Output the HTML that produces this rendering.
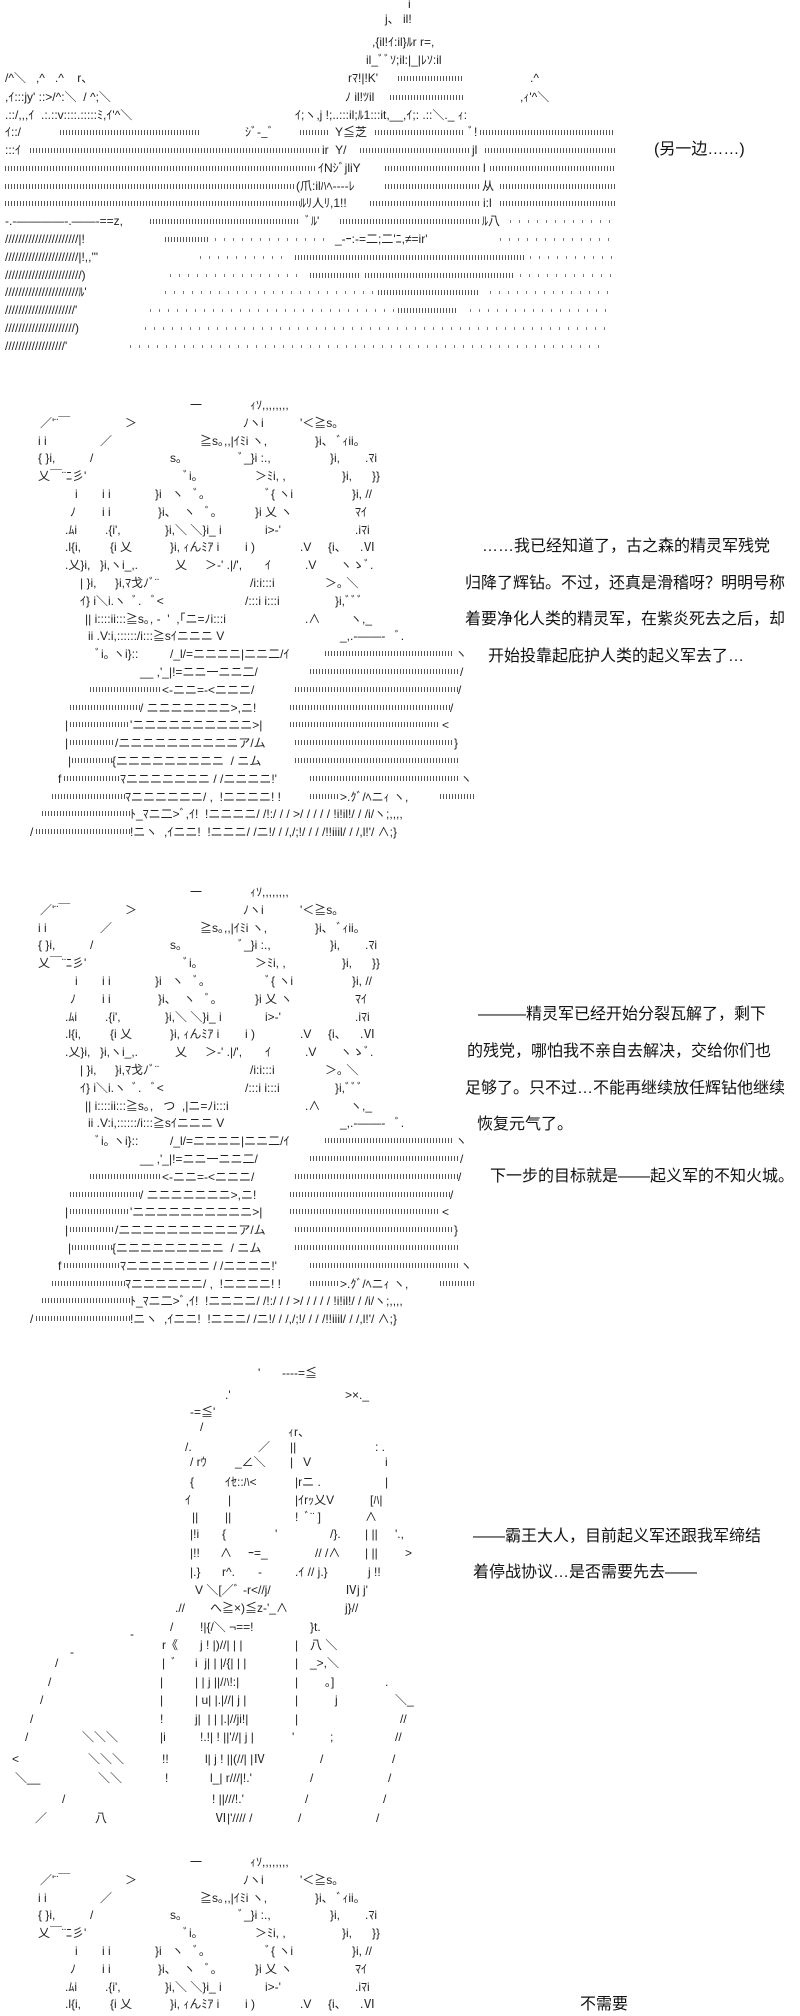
<!DOCTYPE html>
<html><head><meta charset="utf-8">
<style>
html,body{margin:0;padding:0;background:#fff;}
body{width:800px;height:2000px;position:relative;overflow:hidden;}
.p{position:absolute;left:0;width:800px;height:460px;}
.a{position:absolute;white-space:pre;font:12px/14px "Liberation Sans","Noto Sans CJK JP",sans-serif;color:#222;font-style:normal;}
.d{position:absolute;height:5px;background:repeating-linear-gradient(90deg,#555 0 1px,transparent 1px 3px);text-decoration:none;}
.e{position:absolute;height:3px;background:repeating-linear-gradient(90deg,#777 0 1px,transparent 1px 9px);}
.t{position:absolute;white-space:pre;font:16px/22px "Liberation Sans","Noto Sans CJK SC",sans-serif;color:#111;}
</style></head><body>

<!-- Panel 1 landscape -->
<div class="p" style="top:0;height:370px">
<i class="a" style="left:408px;top:-3px">i</i>
<i class="a" style="left:385px;top:12px">j、 il!</i>
<i class="a" style="left:372px;top:35px">,{il!ｲ:il}ﾙr r=,</i>
<i class="a" style="left:366px;top:53px">il_ﾞﾞｿ;il:|_|ﾚｿ:il</i>
<i class="a" style="left:5px;top:71px">/^＼   ,^   .^    r、</i>
<i class="a" style="left:348px;top:71px">rﾏ!|!K'</i><s class="d" style="left:398px;top:76px;width:65px"></s>
<i class="a" style="left:530px;top:71px">.^</i>
<i class="a" style="left:5px;top:90px">,ｲ:::jy' ::&gt;/^:＼  / ^;＼</i>
<i class="a" style="left:345px;top:90px">ﾉ il!ﾂil</i><s class="d" style="left:390px;top:95px;width:75px"></s>
<i class="a" style="left:520px;top:90px">,ｨ'^＼</i>
<i class="a" style="left:5px;top:108px">.::/,,,ｲ  .:.::v::::.:::::ﾐ,ｲ'^＼</i>
<i class="a" style="left:295px;top:108px">ｲ;ヽ,j !;..:::il;ﾙ1:::it,__,ｲ;: .::＼._ ｨ:</i>
<i class="a" style="left:5px;top:125px">ｲ::/</i><s class="d" style="left:60px;top:130px;width:140px"></s>
<i class="a" style="left:245px;top:125px">ｼﾞ-_ﾞ</i><s class="d" style="left:300px;top:130px;width:30px"></s>
<i class="a" style="left:335px;top:125px">Y≦芝</i><s class="d" style="left:375px;top:130px;width:90px"></s><i class="a" style="left:468px;top:125px">ﾞ!</i><s class="d" style="left:480px;top:130px;width:135px"></s>
<i class="a" style="left:5px;top:143px">:::ｲ</i><s class="d" style="left:30px;top:148px;width:290px"></s><i class="a" style="left:322px;top:143px">ir  Y/</i><s class="d" style="left:360px;top:148px;width:110px"></s><i class="a" style="left:472px;top:143px">jl</i><s class="d" style="left:485px;top:148px;width:130px"></s>
<s class="d" style="left:5px;top:166px;width:310px"></s><i class="a" style="left:318px;top:161px">ｲNｼﾞjliY</i><s class="d" style="left:385px;top:166px;width:95px"></s><i class="a" style="left:483px;top:161px">l</i><s class="d" style="left:490px;top:166px;width:125px"></s>
<s class="d" style="left:5px;top:184px;width:290px"></s><i class="a" style="left:296px;top:179px">(爪:ilﾊﾍ----ﾚ</i><s class="d" style="left:385px;top:184px;width:95px"></s><i class="a" style="left:482px;top:179px">从</i><s class="d" style="left:500px;top:184px;width:115px"></s>
<s class="d" style="left:5px;top:201px;width:295px"></s><i class="a" style="left:300px;top:196px">ﾙﾘ人ﾘ,1!!</i><s class="d" style="left:370px;top:201px;width:110px"></s><i class="a" style="left:483px;top:196px">i:l</i><s class="d" style="left:500px;top:201px;width:115px"></s>
<i class="a" style="left:5px;top:214px">-.-――――-.――-==z,</i><s class="d" style="left:150px;top:219px;width:150px"></s><i class="a" style="left:305px;top:214px">ﾞﾙ'</i><s class="d" style="left:340px;top:219px;width:140px"></s><i class="a" style="left:482px;top:214px">ﾙ八</i><s class="e" style="left:510px;top:220px;width:105px"></s>
<i class="a" style="left:5px;top:232px">//////////////////////|!</i><s class="d" style="left:165px;top:237px;width:45px"></s><s class="e" style="left:215px;top:238px;width:110px"></s><i class="a" style="left:335px;top:232px">_-ｰ:-=二;二'ﾆ,≠=ir'</i><s class="e" style="left:500px;top:238px;width:115px"></s>
<i class="a" style="left:5px;top:250px">//////////////////////|!,,'"</i><s class="e" style="left:200px;top:256px;width:90px"></s><s class="d" style="left:295px;top:255px;width:230px"></s><s class="e" style="left:530px;top:256px;width:85px"></s>
<i class="a" style="left:5px;top:268px">///////////////////////)</i><s class="e" style="left:170px;top:274px;width:130px"></s><s class="d" style="left:310px;top:273px;width:50px"></s><s class="d" style="left:365px;top:273px;width:150px"></s><s class="e" style="left:520px;top:274px;width:95px"></s>
<i class="a" style="left:5px;top:285px">//////////////////////ﾙ'</i><s class="e" style="left:165px;top:291px;width:210px"></s><s class="d" style="left:378px;top:290px;width:100px"></s><s class="e" style="left:490px;top:291px;width:125px"></s>
<i class="a" style="left:5px;top:303px">/////////////////////'</i><s class="e" style="left:150px;top:309px;width:245px"></s><s class="d" style="left:398px;top:308px;width:60px"></s><s class="e" style="left:470px;top:309px;width:140px"></s>
<i class="a" style="left:5px;top:321px">/////////////////////)</i><s class="e" style="left:145px;top:327px;width:465px"></s>
<i class="a" style="left:5px;top:339px">//////////////////'</i><s class="e" style="left:130px;top:345px;width:475px"></s>
</div>
<div class="t" style="left:654px;top:139px">(另一边……)</div>

<!-- Panel 2 -->
<div class="p" style="top:403px">
<i class="a" style="left:190px;top:-5px">一</i><i class="a" style="left:250px;top:-5px">ｨｿ,,,,,,,,</i>
<i class="a" style="left:40px;top:13px">／'¨￣</i><i class="a" style="left:125px;top:13px">＞</i><i class="a" style="left:243px;top:13px">ﾉヽi</i><i class="a" style="left:300px;top:13px">'＜≧s｡</i>
<i class="a" style="left:38px;top:31px">i i</i><i class="a" style="left:100px;top:31px">／</i><i class="a" style="left:200px;top:31px">≧s｡,,|ｲﾐi ヽ,</i><i class="a" style="left:315px;top:31px">}i、 ﾞｨii｡</i>
<i class="a" style="left:38px;top:48px">{ }i,</i><i class="a" style="left:90px;top:48px">/</i><i class="a" style="left:170px;top:48px">s｡</i><i class="a" style="left:238px;top:48px">ﾞ_}i :.,</i><i class="a" style="left:330px;top:48px">}i,</i><i class="a" style="left:365px;top:48px">.ﾏi</i>
<i class="a" style="left:38px;top:66px">乂￣¨ﾆ彡'</i><i class="a" style="left:183px;top:66px">ﾞi｡</i><i class="a" style="left:255px;top:66px">＞ﾐi, ,</i><i class="a" style="left:342px;top:66px">}i,</i><i class="a" style="left:372px;top:66px">}}</i>
<i class="a" style="left:75px;top:84px">i</i><i class="a" style="left:102px;top:84px">i i</i><i class="a" style="left:155px;top:84px">}i   ヽ   ﾞ｡</i><i class="a" style="left:265px;top:84px">ﾞ{ ヽi</i><i class="a" style="left:352px;top:84px">}i, //</i>
<i class="a" style="left:70px;top:102px">ﾉ</i><i class="a" style="left:102px;top:102px">i i</i><i class="a" style="left:158px;top:102px">}i、  ヽ   ﾞ｡</i><i class="a" style="left:255px;top:102px">}i 乂 ヽ</i><i class="a" style="left:355px;top:102px">ﾏｲ</i>
<i class="a" style="left:65px;top:120px">.ﾑi</i><i class="a" style="left:105px;top:120px">.{i',</i><i class="a" style="left:165px;top:120px">}i,＼ ＼}i_ i</i><i class="a" style="left:265px;top:120px">i&gt;-'</i><i class="a" style="left:355px;top:120px">.iﾏi</i>
<i class="a" style="left:65px;top:137px">.l{i,</i><i class="a" style="left:110px;top:137px">{i 乂</i><i class="a" style="left:170px;top:137px">}i, ｨんﾐｱ i</i><i class="a" style="left:245px;top:137px">i )</i><i class="a" style="left:300px;top:137px">.V</i><i class="a" style="left:328px;top:137px">{i、</i><i class="a" style="left:360px;top:137px">.Ⅵ</i>
<i class="a" style="left:65px;top:155px">.乂}i,</i><i class="a" style="left:100px;top:155px">}i,ヽi_,.</i><i class="a" style="left:175px;top:155px">乂</i><i class="a" style="left:205px;top:155px">＞-' .|/',</i><i class="a" style="left:265px;top:155px">ｲ</i><i class="a" style="left:305px;top:155px">.V</i><i class="a" style="left:340px;top:155px">ヽゝﾞ.</i>
<i class="a" style="left:80px;top:173px">| }i,</i><i class="a" style="left:115px;top:173px">}i,ﾏ戈ﾉﾞ¨</i><i class="a" style="left:250px;top:173px">/i:i:::i</i><i class="a" style="left:325px;top:173px">＞｡ ＼</i>
<i class="a" style="left:80px;top:191px">ｲ} i＼i.ヽ  ﾞ.   ﾞ&lt;</i><i class="a" style="left:245px;top:191px">/:::i i:::i</i><i class="a" style="left:335px;top:191px">}i,ﾞﾞﾞ</i>
<i class="a" style="left:85px;top:209px">|| i::::ii:::≧s｡, -  '  ,｢ニ=ﾉi:::i</i><i class="a" style="left:305px;top:209px">.∧</i><i class="a" style="left:350px;top:209px">ヽ,_</i>
<i class="a" style="left:88px;top:226px">ii .V:i,::::::/i:::≧sｲニニニ V</i><i class="a" style="left:340px;top:226px">_,.-――-   ﾞ.</i>
<i class="a" style="left:95px;top:244px">ﾞi｡ ヽi}::</i><i class="a" style="left:170px;top:244px">/_l/=ニニニニ|ニニ二/ｲ</i><s class="d" style="left:325px;top:248px;width:128px"></s><i class="a" style="left:455px;top:244px">ヽ</i>
<i class="a" style="left:140px;top:262px">__ ,'_|!=ニニ一ニニ二/</i><s class="d" style="left:310px;top:266px;width:150px"></s><i class="a" style="left:460px;top:262px">/</i>
<s class="d" style="left:90px;top:284px;width:70px"></s><i class="a" style="left:162px;top:280px">&lt;-ニニ=-&lt;ニニニ/</i><s class="d" style="left:295px;top:284px;width:163px"></s><i class="a" style="left:458px;top:280px">/</i>
<s class="d" style="left:70px;top:302px;width:70px"></s><i class="a" style="left:140px;top:298px">/ ニニニニニニニ&gt;,ニ!</i><s class="d" style="left:290px;top:302px;width:160px"></s><i class="a" style="left:450px;top:298px">/</i>
<i class="a" style="left:65px;top:315px">|</i><s class="d" style="left:70px;top:319px;width:60px"></s><i class="a" style="left:130px;top:315px">'ニニニニニニニニニニ&gt;|</i><s class="d" style="left:290px;top:319px;width:150px"></s><i class="a" style="left:442px;top:315px">&lt;</i>
<i class="a" style="left:65px;top:333px">|</i><s class="d" style="left:70px;top:337px;width:45px"></s><i class="a" style="left:115px;top:333px">/ニニニニニニニニニニア/ム</i><s class="d" style="left:295px;top:337px;width:158px"></s><i class="a" style="left:454px;top:333px">}</i>
<i class="a" style="left:68px;top:351px">|</i><s class="d" style="left:72px;top:355px;width:40px"></s><i class="a" style="left:112px;top:351px">{ニニニニニニニニニ  / ニム</i><s class="d" style="left:295px;top:355px;width:165px"></s>
<i class="a" style="left:58px;top:369px">f</i><s class="d" style="left:64px;top:373px;width:56px"></s><i class="a" style="left:120px;top:369px">ﾏニニニニニニニ / /ニニニニ!'</i><s class="d" style="left:310px;top:373px;width:150px"></s><i class="a" style="left:460px;top:369px">ヽ</i>
<s class="d" style="left:52px;top:391px;width:73px"></s><i class="a" style="left:125px;top:387px">ﾏニニニニニニ/ ,  !ニニニニ! !</i><s class="d" style="left:310px;top:391px;width:30px"></s><i class="a" style="left:340px;top:387px">&gt;.ｸﾞ/ﾍニｨ ヽ,</i><s class="d" style="left:440px;top:391px;width:35px"></s>
<s class="d" style="left:42px;top:408px;width:88px"></s><i class="a" style="left:130px;top:404px">ﾄ_ﾏニ二&gt;ﾞ,ｲ!  !ニニニニ/ /!:/ / / &gt;/ / / / / !i!il!/ / /i/ヽ;,,,,</i>
<i class="a" style="left:30px;top:422px">/</i><s class="d" style="left:36px;top:426px;width:94px"></s><i class="a" style="left:130px;top:422px">!ニヽ  ,ｲニニ!  !ニニニ/ /ニ!/ / /,/;!/ / / /!!iiil/ / /,l!'/ ∧;}</i>
</div>
<div class="t" style="left:482px;top:536px">……我已经知道了，古之森的精灵军残党</div>
<div class="t" style="left:465px;top:573px">归降了辉钻。不过，还真是滑稽呀？明明号称</div>
<div class="t" style="left:465px;top:609px">着要净化人类的精灵军，在紫炎死去之后，却</div>
<div class="t" style="left:488px;top:646px">开始投靠起庇护人类的起义军去了…</div>

<!-- Panel 3 -->
<div class="p" style="top:890px">
<i class="a" style="left:190px;top:-5px">一</i><i class="a" style="left:250px;top:-5px">ｨｿ,,,,,,,,</i>
<i class="a" style="left:40px;top:13px">／'¨￣</i><i class="a" style="left:125px;top:13px">＞</i><i class="a" style="left:243px;top:13px">ﾉヽi</i><i class="a" style="left:300px;top:13px">'＜≧s｡</i>
<i class="a" style="left:38px;top:31px">i i</i><i class="a" style="left:100px;top:31px">／</i><i class="a" style="left:200px;top:31px">≧s｡,,|ｲﾐi ヽ,</i><i class="a" style="left:315px;top:31px">}i、 ﾞｨii｡</i>
<i class="a" style="left:38px;top:48px">{ }i,</i><i class="a" style="left:90px;top:48px">/</i><i class="a" style="left:170px;top:48px">s｡</i><i class="a" style="left:238px;top:48px">ﾞ_}i :.,</i><i class="a" style="left:330px;top:48px">}i,</i><i class="a" style="left:365px;top:48px">.ﾏi</i>
<i class="a" style="left:38px;top:66px">乂￣¨ﾆ彡'</i><i class="a" style="left:183px;top:66px">ﾞi｡</i><i class="a" style="left:255px;top:66px">＞ﾐi, ,</i><i class="a" style="left:342px;top:66px">}i,</i><i class="a" style="left:372px;top:66px">}}</i>
<i class="a" style="left:75px;top:84px">i</i><i class="a" style="left:102px;top:84px">i i</i><i class="a" style="left:155px;top:84px">}i   ヽ   ﾞ｡</i><i class="a" style="left:265px;top:84px">ﾞ{ ヽi</i><i class="a" style="left:352px;top:84px">}i, //</i>
<i class="a" style="left:70px;top:102px">ﾉ</i><i class="a" style="left:102px;top:102px">i i</i><i class="a" style="left:158px;top:102px">}i、  ヽ   ﾞ｡</i><i class="a" style="left:255px;top:102px">}i 乂 ヽ</i><i class="a" style="left:355px;top:102px">ﾏｲ</i>
<i class="a" style="left:65px;top:120px">.ﾑi</i><i class="a" style="left:105px;top:120px">.{i',</i><i class="a" style="left:165px;top:120px">}i,＼ ＼}i_ i</i><i class="a" style="left:265px;top:120px">i&gt;-'</i><i class="a" style="left:355px;top:120px">.iﾏi</i>
<i class="a" style="left:65px;top:137px">.l{i,</i><i class="a" style="left:110px;top:137px">{i 乂</i><i class="a" style="left:170px;top:137px">}i, ｨんﾐｱ i</i><i class="a" style="left:245px;top:137px">i )</i><i class="a" style="left:300px;top:137px">.V</i><i class="a" style="left:328px;top:137px">{i、</i><i class="a" style="left:360px;top:137px">.Ⅵ</i>
<i class="a" style="left:65px;top:155px">.乂}i,</i><i class="a" style="left:100px;top:155px">}i,ヽi_,.</i><i class="a" style="left:175px;top:155px">乂</i><i class="a" style="left:205px;top:155px">＞-' .|/',</i><i class="a" style="left:265px;top:155px">ｲ</i><i class="a" style="left:305px;top:155px">.V</i><i class="a" style="left:340px;top:155px">ヽゝﾞ.</i>
<i class="a" style="left:80px;top:173px">| }i,</i><i class="a" style="left:115px;top:173px">}i,ﾏ戈ﾉﾞ¨</i><i class="a" style="left:250px;top:173px">/i:i:::i</i><i class="a" style="left:325px;top:173px">＞｡ ＼</i>
<i class="a" style="left:80px;top:191px">ｲ} i＼i.ヽ  ﾞ.   ﾞ&lt;</i><i class="a" style="left:245px;top:191px">/:::i i:::i</i><i class="a" style="left:335px;top:191px">}i,ﾞﾞﾞ</i>
<i class="a" style="left:85px;top:209px">|| i::::ii:::≧s｡,   つ  ,|ニ=ﾉi:::i</i><i class="a" style="left:305px;top:209px">.∧</i><i class="a" style="left:350px;top:209px">ヽ,_</i>
<i class="a" style="left:88px;top:226px">ii .V:i,::::::/i:::≧sｲニニニ V</i><i class="a" style="left:340px;top:226px">_,.-――-   ﾞ.</i>
<i class="a" style="left:95px;top:244px">ﾞi｡ ヽi}::</i><i class="a" style="left:170px;top:244px">/_l/=ニニニニ|ニニ二/ｲ</i><s class="d" style="left:325px;top:248px;width:128px"></s><i class="a" style="left:455px;top:244px">ヽ</i>
<i class="a" style="left:140px;top:262px">__ ,'_|!=ニニ一ニニ二/</i><s class="d" style="left:310px;top:266px;width:150px"></s><i class="a" style="left:460px;top:262px">/</i>
<s class="d" style="left:90px;top:284px;width:70px"></s><i class="a" style="left:162px;top:280px">&lt;-ニニ=-&lt;ニニニ/</i><s class="d" style="left:295px;top:284px;width:163px"></s><i class="a" style="left:458px;top:280px">/</i>
<s class="d" style="left:70px;top:302px;width:70px"></s><i class="a" style="left:140px;top:298px">/ ニニニニニニニ&gt;,ニ!</i><s class="d" style="left:290px;top:302px;width:160px"></s><i class="a" style="left:450px;top:298px">/</i>
<i class="a" style="left:65px;top:315px">|</i><s class="d" style="left:70px;top:319px;width:60px"></s><i class="a" style="left:130px;top:315px">'ニニニニニニニニニニ&gt;|</i><s class="d" style="left:290px;top:319px;width:150px"></s><i class="a" style="left:442px;top:315px">&lt;</i>
<i class="a" style="left:65px;top:333px">|</i><s class="d" style="left:70px;top:337px;width:45px"></s><i class="a" style="left:115px;top:333px">/ニニニニニニニニニニア/ム</i><s class="d" style="left:295px;top:337px;width:158px"></s><i class="a" style="left:454px;top:333px">}</i>
<i class="a" style="left:68px;top:351px">|</i><s class="d" style="left:72px;top:355px;width:40px"></s><i class="a" style="left:112px;top:351px">{ニニニニニニニニニ  / ニム</i><s class="d" style="left:295px;top:355px;width:165px"></s>
<i class="a" style="left:58px;top:369px">f</i><s class="d" style="left:64px;top:373px;width:56px"></s><i class="a" style="left:120px;top:369px">ﾏニニニニニニニ / /ニニニニ!'</i><s class="d" style="left:310px;top:373px;width:150px"></s><i class="a" style="left:460px;top:369px">ヽ</i>
<s class="d" style="left:52px;top:391px;width:73px"></s><i class="a" style="left:125px;top:387px">ﾏニニニニニニ/ ,  !ニニニニ! !</i><s class="d" style="left:310px;top:391px;width:30px"></s><i class="a" style="left:340px;top:387px">&gt;.ｸﾞ/ﾍニｨ ヽ,</i><s class="d" style="left:440px;top:391px;width:35px"></s>
<s class="d" style="left:42px;top:408px;width:88px"></s><i class="a" style="left:130px;top:404px">ﾄ_ﾏニ二&gt;ﾞ,ｲ!  !ニニニニ/ /!:/ / / &gt;/ / / / / !i!il!/ / /i/ヽ;,,,,</i>
<i class="a" style="left:30px;top:422px">/</i><s class="d" style="left:36px;top:426px;width:94px"></s><i class="a" style="left:130px;top:422px">!ニヽ  ,ｲニニ!  !ニニニ/ /ニ!/ / /,/;!/ / / /!!iiil/ / /,l!'/ ∧;}</i>
</div>
<div class="t" style="left:478px;top:1004px">———精灵军已经开始分裂瓦解了，剩下</div>
<div class="t" style="left:467px;top:1041px">的残党，哪怕我不亲自去解决，交给你们也</div>
<div class="t" style="left:465px;top:1078px">足够了。只不过…不能再继续放任辉钻他继续</div>
<div class="t" style="left:477px;top:1114px">恢复元气了。</div>
<div class="t" style="left:490px;top:1166px">下一步的目标就是——起义军的不知火城。</div>

<!-- Panel 4 character -->
<div class="p" style="top:0">
<i class="a" style="left:258px;top:1366px">'</i><i class="a" style="left:282px;top:1366px">----=≦</i>
<i class="a" style="left:225px;top:1388px">.'</i><i class="a" style="left:345px;top:1388px">&gt;×._</i>
<i class="a" style="left:190px;top:1405px">-=≦'</i>
<i class="a" style="left:200px;top:1420px">/</i><i class="a" style="left:288px;top:1425px">ｨr、</i>
<i class="a" style="left:185px;top:1440px">/.</i><i class="a" style="left:258px;top:1440px">／</i><i class="a" style="left:290px;top:1440px">||</i><i class="a" style="left:375px;top:1440px">: .</i>
<i class="a" style="left:190px;top:1455px">/ rｳ</i><i class="a" style="left:235px;top:1455px">_∠＼</i><i class="a" style="left:290px;top:1455px">|   V</i><i class="a" style="left:385px;top:1455px">i</i>
<i class="a" style="left:190px;top:1475px">{</i><i class="a" style="left:225px;top:1475px">ｲｾ::ﾊ&lt;</i><i class="a" style="left:295px;top:1475px">|rニ .</i><i class="a" style="left:385px;top:1475px">|</i>
<i class="a" style="left:185px;top:1493px">ｲ</i><i class="a" style="left:228px;top:1493px">|</i><i class="a" style="left:295px;top:1493px">|ｲrｯ乂V</i><i class="a" style="left:370px;top:1493px">[ﾊ|</i>
<i class="a" style="left:192px;top:1510px">||</i><i class="a" style="left:225px;top:1510px">||</i><i class="a" style="left:295px;top:1510px">!  ﾞ¨ ]</i><i class="a" style="left:365px;top:1510px">∧</i>
<i class="a" style="left:190px;top:1527px">|!i</i><i class="a" style="left:222px;top:1527px">{</i><i class="a" style="left:275px;top:1527px">'</i><i class="a" style="left:330px;top:1527px">/}.</i><i class="a" style="left:365px;top:1527px">| ||</i><i class="a" style="left:395px;top:1527px">'.,</i>
<i class="a" style="left:190px;top:1546px">|!!</i><i class="a" style="left:220px;top:1546px">∧</i><i class="a" style="left:248px;top:1546px">ｰ=_</i><i class="a" style="left:315px;top:1546px">// /∧</i><i class="a" style="left:365px;top:1546px">| ||</i><i class="a" style="left:405px;top:1546px">&gt;</i>
<i class="a" style="left:190px;top:1565px">|.}</i><i class="a" style="left:222px;top:1565px">r^.</i><i class="a" style="left:258px;top:1565px">-</i><i class="a" style="left:295px;top:1565px">.ｲ // j.}</i><i class="a" style="left:368px;top:1565px">j !!</i>
<i class="a" style="left:195px;top:1583px">V ＼[／ﾞ -r&lt;//j/</i><i class="a" style="left:345px;top:1583px">Ⅳj j'</i>
<i class="a" style="left:175px;top:1601px">.//</i><i class="a" style="left:210px;top:1601px">へ≧×)≦z-'_∧</i><i class="a" style="left:345px;top:1601px">j}//</i>
<i class="a" style="left:170px;top:1620px">/</i><i class="a" style="left:200px;top:1620px">!|{/＼ ¬==!</i><i class="a" style="left:310px;top:1620px">}t.</i><i class="a" style="left:130px;top:1627px">-</i>
<i class="a" style="left:162px;top:1638px">r《</i><i class="a" style="left:200px;top:1638px">j ! |)//| | |</i><i class="a" style="left:295px;top:1638px">|</i><i class="a" style="left:310px;top:1638px">八 ＼</i><i class="a" style="left:70px;top:1645px">-</i>
<i class="a" style="left:162px;top:1656px">|  ﾞ</i><i class="a" style="left:195px;top:1656px">i  j| | |/{| | |</i><i class="a" style="left:295px;top:1656px">|</i><i class="a" style="left:310px;top:1656px">_&gt;,＼</i><i class="a" style="left:55px;top:1656px">/</i>
<i class="a" style="left:160px;top:1675px">|</i><i class="a" style="left:195px;top:1675px">| | j ||/ﾊ!:|</i><i class="a" style="left:295px;top:1675px">|</i><i class="a" style="left:325px;top:1675px">｡]</i><i class="a" style="left:385px;top:1675px">.</i><i class="a" style="left:48px;top:1675px">/</i>
<i class="a" style="left:160px;top:1693px">|</i><i class="a" style="left:195px;top:1693px">| u| |.|//| j |</i><i class="a" style="left:295px;top:1693px">|</i><i class="a" style="left:335px;top:1693px">j</i><i class="a" style="left:395px;top:1693px">＼_</i><i class="a" style="left:40px;top:1693px">/</i>
<i class="a" style="left:160px;top:1712px">!</i><i class="a" style="left:195px;top:1712px">j|  | | |.|//ji!|</i><i class="a" style="left:295px;top:1712px">|</i><i class="a" style="left:400px;top:1712px">//</i><i class="a" style="left:30px;top:1712px">/</i>
<i class="a" style="left:160px;top:1730px">|i</i><i class="a" style="left:200px;top:1730px">!.!| ! ||'//| j |</i><i class="a" style="left:292px;top:1730px">'</i><i class="a" style="left:330px;top:1730px">;</i><i class="a" style="left:395px;top:1730px">//</i><i class="a" style="left:82px;top:1730px">＼＼＼</i><i class="a" style="left:25px;top:1730px">/</i>
<i class="a" style="left:162px;top:1752px">!!</i><i class="a" style="left:205px;top:1752px">l| j ! ||(//| |Ⅳ</i><i class="a" style="left:320px;top:1752px">/</i><i class="a" style="left:392px;top:1752px">/</i><i class="a" style="left:12px;top:1752px">&lt;</i><i class="a" style="left:88px;top:1752px">＼＼＼</i>
<i class="a" style="left:165px;top:1771px">!</i><i class="a" style="left:210px;top:1771px">l_| r///|!.'</i><i class="a" style="left:310px;top:1771px">/</i><i class="a" style="left:388px;top:1771px">/</i><i class="a" style="left:15px;top:1771px">＼__</i><i class="a" style="left:98px;top:1771px">＼＼</i>
<i class="a" style="left:212px;top:1792px">! ||///!.'</i><i class="a" style="left:305px;top:1792px">/</i><i class="a" style="left:383px;top:1792px">/</i><i class="a" style="left:62px;top:1792px">/</i>
<i class="a" style="left:215px;top:1811px">Ⅵ|'//// /</i><i class="a" style="left:298px;top:1811px">/</i><i class="a" style="left:376px;top:1811px">/</i><i class="a" style="left:35px;top:1811px">／</i><i class="a" style="left:95px;top:1811px">八</i>
</div>
<div class="t" style="left:473px;top:1526px">——霸王大人，目前起义军还跟我军缔结</div>
<div class="t" style="left:473px;top:1562px">着停战协议…是否需要先去——</div>

<!-- Panel 5 -->
<div class="p" style="top:1860px;height:140px">
<i class="a" style="left:190px;top:-5px">一</i><i class="a" style="left:250px;top:-5px">ｨｿ,,,,,,,,</i>
<i class="a" style="left:40px;top:13px">／'¨￣</i><i class="a" style="left:125px;top:13px">＞</i><i class="a" style="left:243px;top:13px">ﾉヽi</i><i class="a" style="left:300px;top:13px">'＜≧s｡</i>
<i class="a" style="left:38px;top:31px">i i</i><i class="a" style="left:100px;top:31px">／</i><i class="a" style="left:200px;top:31px">≧s｡,,|ｲﾐi ヽ,</i><i class="a" style="left:315px;top:31px">}i、 ﾞｨii｡</i>
<i class="a" style="left:38px;top:48px">{ }i,</i><i class="a" style="left:90px;top:48px">/</i><i class="a" style="left:170px;top:48px">s｡</i><i class="a" style="left:238px;top:48px">ﾞ_}i :.,</i><i class="a" style="left:330px;top:48px">}i,</i><i class="a" style="left:365px;top:48px">.ﾏi</i>
<i class="a" style="left:38px;top:66px">乂￣¨ﾆ彡'</i><i class="a" style="left:183px;top:66px">ﾞi｡</i><i class="a" style="left:255px;top:66px">＞ﾐi, ,</i><i class="a" style="left:342px;top:66px">}i,</i><i class="a" style="left:372px;top:66px">}}</i>
<i class="a" style="left:75px;top:84px">i</i><i class="a" style="left:102px;top:84px">i i</i><i class="a" style="left:155px;top:84px">}i   ヽ   ﾞ｡</i><i class="a" style="left:265px;top:84px">ﾞ{ ヽi</i><i class="a" style="left:352px;top:84px">}i, //</i>
<i class="a" style="left:70px;top:102px">ﾉ</i><i class="a" style="left:102px;top:102px">i i</i><i class="a" style="left:158px;top:102px">}i、  ヽ   ﾞ｡</i><i class="a" style="left:255px;top:102px">}i 乂 ヽ</i><i class="a" style="left:355px;top:102px">ﾏｲ</i>
<i class="a" style="left:65px;top:120px">.ﾑi</i><i class="a" style="left:105px;top:120px">.{i',</i><i class="a" style="left:165px;top:120px">}i,＼ ＼}i_ i</i><i class="a" style="left:265px;top:120px">i&gt;-'</i><i class="a" style="left:355px;top:120px">.iﾏi</i>
<i class="a" style="left:65px;top:137px">.l{i,</i><i class="a" style="left:110px;top:137px">{i 乂</i><i class="a" style="left:170px;top:137px">}i, ｨんﾐｱ i</i><i class="a" style="left:245px;top:137px">i )</i><i class="a" style="left:300px;top:137px">.V</i><i class="a" style="left:328px;top:137px">{i、</i><i class="a" style="left:360px;top:137px">.Ⅵ</i>
</div>
<div class="t" style="left:580px;top:1994px">不需要</div>
</body></html>
